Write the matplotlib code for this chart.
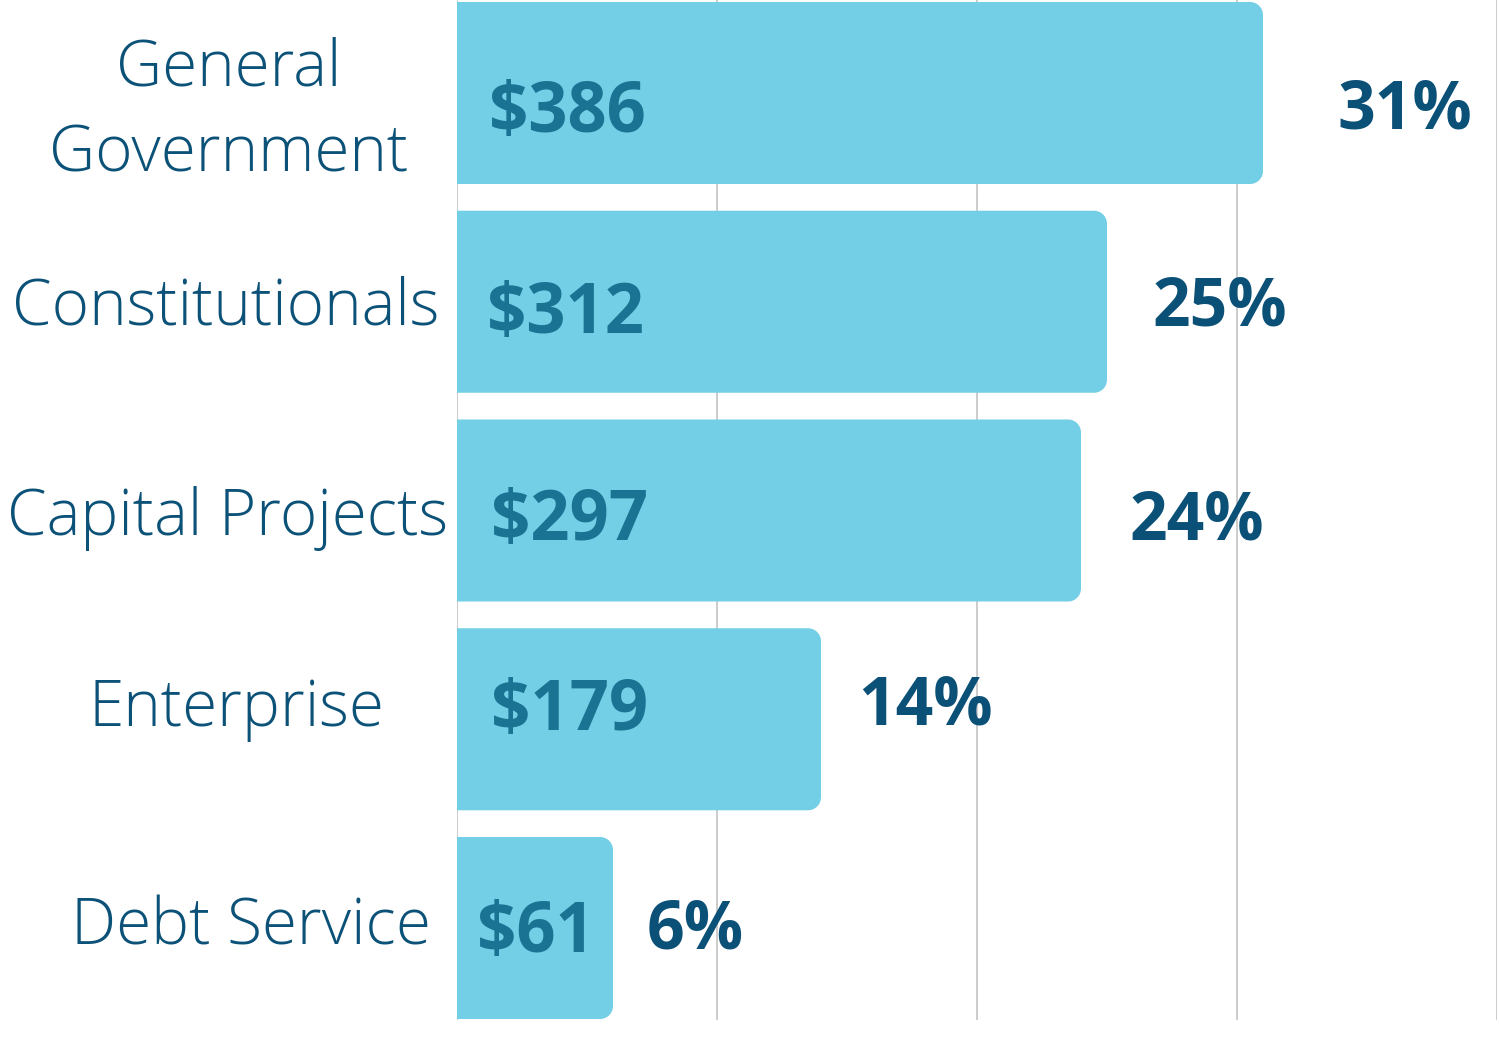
import matplotlib
matplotlib.use("Agg")
import matplotlib.pyplot as plt
from matplotlib.path import Path
from matplotlib.patches import PathPatch

# ---- data ----
categories = ["General\nGovernment", "Constitutionals", "Capital Projects", "Enterprise", "Debt Service"]
amounts = [386, 312, 297, 179, 61]          # $ millions (labels inside bars)
percents = [31, 25, 24, 14, 6]              # share of total (bar length)
value_labels = ["$386", "$312", "$297", "$179", "$61"]
pct_labels = ["31%", "25%", "24%", "14%", "6%"]
grid_ticks = [0, 10, 20, 30, 40]

# ---- layout (pixel nudges, not data) ----
cat_dx = [-228, -231, -229, -221, -206]      # centre x offset from axis line
cat_dy = [79, 23, 24, 7, 16]                 # baseline below bar centre
val_dx = [32, 30, 34, 34, 20]
val_dy = [39, 31, 29, 11, 24]
pct_dx = [74, 46, 49, 37, 34]
pct_dy = [36, 24, 29, 5, 20]

BAR_COLOR = "#73CFE6"
VAL_COLOR = "#1A7393"
PCT_COLOR = "#0B5077"
CAT_COLOR = "#0C5278"
GRID_COLOR = "#CCCCCC"

fam = "Open Sans"
DPI = 100
W, H = 1499, 1039
px = 72.0 / DPI

fig = plt.figure(figsize=(W / DPI, H / DPI), dpi=DPI)
fig.patch.set_facecolor("white")
ax = fig.add_axes([457 / W, 19 / H, (1497 - 457) / W, 1020 / H])

ypos = list(range(len(categories)))
bars = ax.barh(ypos, percents, height=0.872, color=BAR_COLOR, zorder=2)
ax.set_xlim(0, 40)
ax.set_ylim(4.4407, -0.4455)

ax.set_xticks(grid_ticks)
ax.xaxis.grid(True, color=GRID_COLOR, linewidth=1.4, zorder=0)
ax.set_axisbelow(True)
ax.tick_params(length=0, labelbottom=False, labelleft=False)
for s in ax.spines.values():
    s.set_visible(False)

# rounded right corners
r_px = 13.0
x_per_px = 40 / (1497 - 457)
y_per_px = 1 / 208.75
rx, ry = r_px * x_per_px, r_px * y_per_px
k = 0.5523
for b in bars:
    x0, y0 = b.get_x(), b.get_y()
    w, h = b.get_width(), b.get_height()
    x1, y1 = x0 + w, y0 + h
    verts = [
        (x0, y0), (x1 - rx, y0),
        (x1 - rx + k * rx, y0), (x1, y0 + ry - k * ry), (x1, y0 + ry),
        (x1, y1 - ry),
        (x1, y1 - ry + k * ry), (x1 - rx + k * rx, y1), (x1 - rx, y1),
        (x0, y1), (x0, y0),
    ]
    codes = [Path.MOVETO, Path.LINETO,
             Path.CURVE4, Path.CURVE4, Path.CURVE4,
             Path.LINETO,
             Path.CURVE4, Path.CURVE4, Path.CURVE4,
             Path.LINETO, Path.CLOSEPOLY]
    ax.add_patch(PathPatch(Path(verts, codes), facecolor=BAR_COLOR,
                           edgecolor="none", zorder=2))
    b.set_visible(False)

ytr = ax.get_yaxis_transform()
for i, (cat, p, vl, pl) in enumerate(zip(categories, percents, value_labels, pct_labels)):
    ax.annotate(cat, xy=(0, i), xycoords=ytr,
                xytext=(cat_dx[i] * px, -cat_dy[i] * px), textcoords="offset points",
                ha="center", va="baseline", fontsize=46, family=fam, weight="light",
                color=CAT_COLOR, linespacing=1.44, annotation_clip=False)
    ax.annotate(vl, xy=(0, i), xycoords="data",
                xytext=(val_dx[i] * px, -val_dy[i] * px), textcoords="offset points",
                ha="left", va="baseline", fontsize=49.5, family=fam, weight="bold",
                color=VAL_COLOR, zorder=3)
    ax.annotate(pl, xy=(p, i), xycoords="data",
                xytext=(pct_dx[i] * px, -pct_dy[i] * px), textcoords="offset points",
                ha="left", va="baseline", fontsize=47.5, family=fam, weight="bold",
                color=PCT_COLOR, zorder=3)

fig.savefig("out.png", dpi=DPI, facecolor="white")
